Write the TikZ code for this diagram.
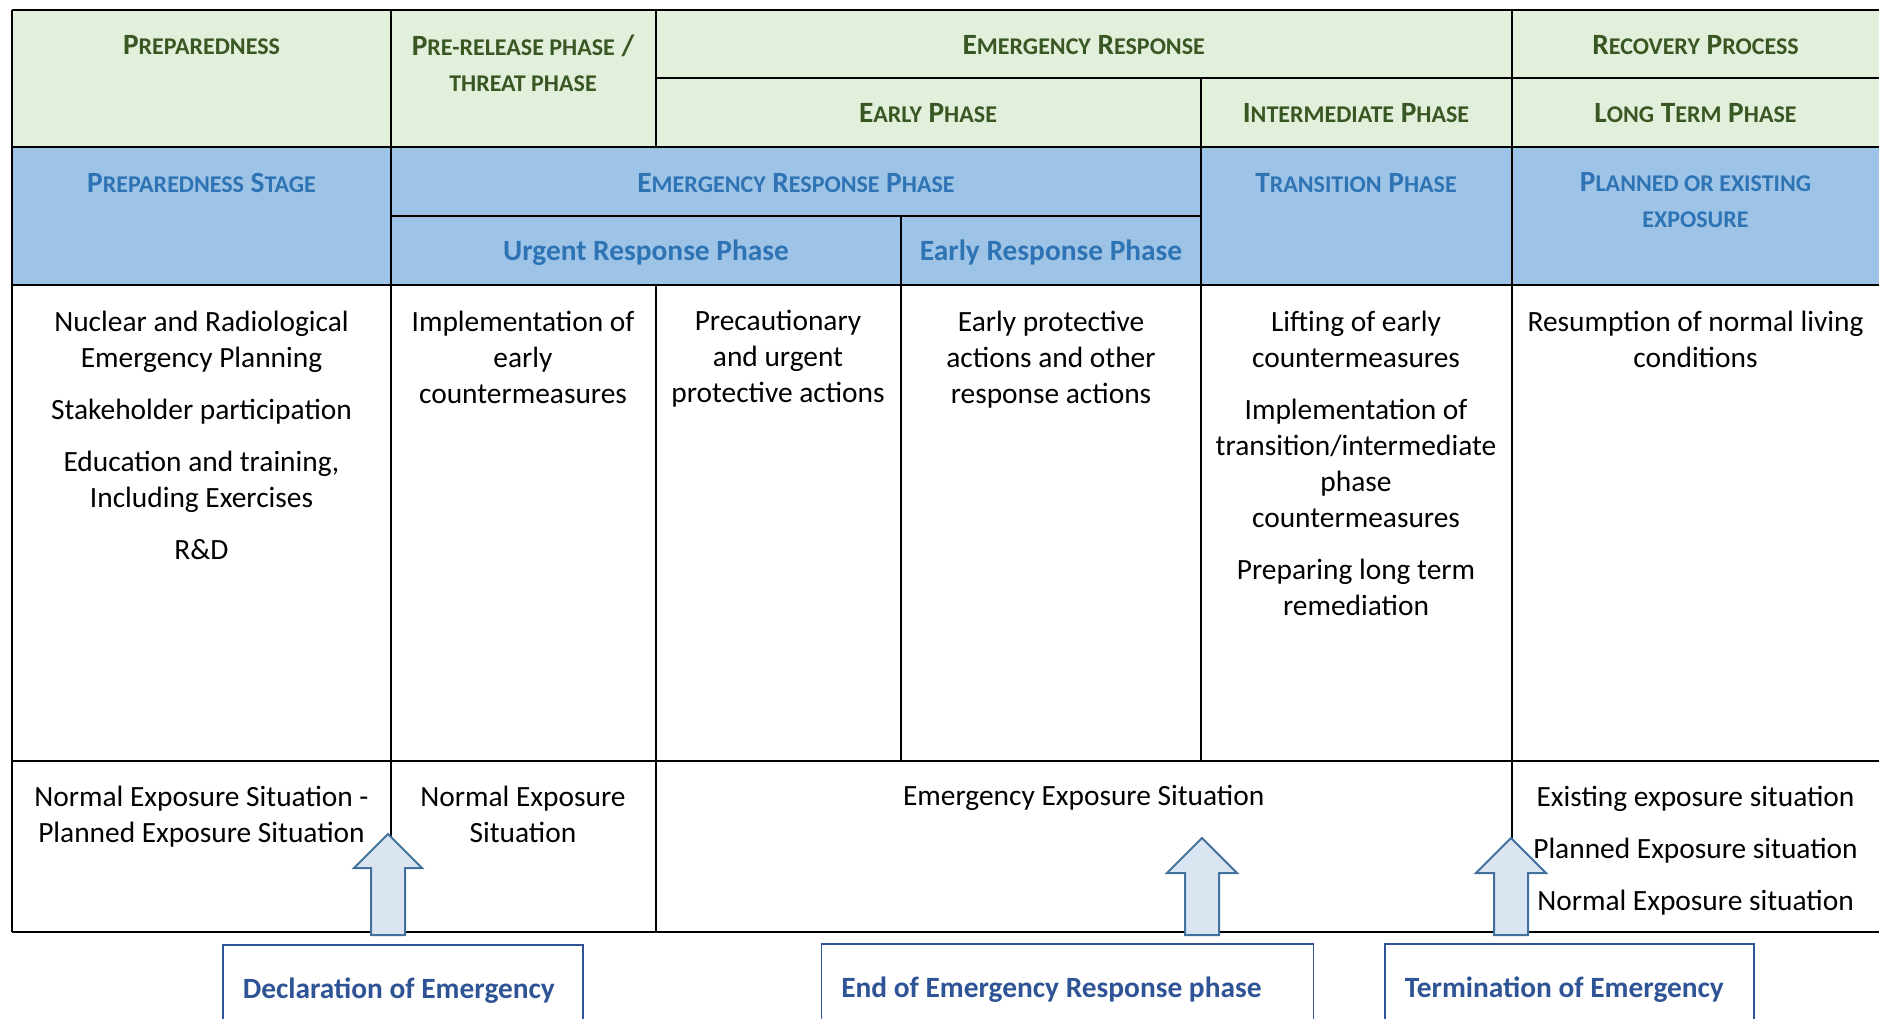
\documentclass[tikz,border=0pt]{standalone}
\usepackage{fontspec}
\setmainfont{Carlito}
\usepackage{tikz}

\definecolor{hdgreen}{HTML}{E2EFDA}
\definecolor{hdgreentext}{HTML}{385723}
\definecolor{hdblue}{HTML}{9DC3E6}
\definecolor{hdbluetext}{HTML}{2E74B5}
\definecolor{lblblue}{HTML}{2F5496}
\definecolor{arrfill}{HTML}{DAE5F1}
\definecolor{arrline}{HTML}{41719C}

% fake small caps
\newcommand{\lc}[1]{{\fontsize{12}{18}\selectfont #1}}

\begin{document}
\begin{tikzpicture}[x=0.5pt, y=-0.5pt,
    txt/.style={anchor=north, inner sep=0pt, align=center, font=\fontsize{14.7}{18}\selectfont, execute at begin node=\strut},
    greenhd/.style={txt, font=\fontsize{14.7}{18}\selectfont\bfseries, text=hdgreentext},
    bluehd/.style={txt, font=\fontsize{14.7}{18}\selectfont\bfseries, text=hdbluetext},
    lbl/.style={draw=lblblue, line width=0.75pt, anchor=north west, inner xsep=10pt, inner ysep=14.4pt, font=\fontsize{14.7}{18}\selectfont\bfseries, text=lblblue, execute at begin node=\strut},
    blockarr/.style={fill=arrfill, draw=arrline, line width=1pt, line join=miter},
    grid/.style={line width=1pt}]
    \useasboundingbox (0,0) rectangle (1879,1018);

    % backgrounds
    \fill[hdgreen] (12,9.6) rectangle (1881,147.4);
    \fill[hdblue] (12,147.4) rectangle (1881,285.2);

    % table lines
    \draw[grid] (12,9.6) -- (1881,9.6);
    \draw[grid] (655.5,78) -- (1881,78);
    \draw[grid] (12,147.4) -- (1881,147.4);
    \draw[grid] (391,215.7) -- (1200.7,215.7);
    \draw[grid] (12,285.2) -- (1881,285.2);
    \draw[grid] (12,761) -- (1881,761);
    \draw[grid] (12,932.3) -- (1881,932.3);
    \draw[grid] (12,9.6) -- (12,932.3);
    \draw[grid] (391,9.6) -- (391,932.3);
    \draw[grid] (655.5,9.6) -- (655.5,147.4);
    \draw[grid] (655.5,285.2) -- (655.5,932.3);
    \draw[grid] (901,215.7) -- (901,761);
    \draw[grid] (1200.7,78) -- (1200.7,761);
    \draw[grid] (1512,9.6) -- (1512,932.3);

    % green header
    \node[greenhd] (prep) at (201.5,28.6) {P\lc{REPAREDNESS}};
    \node[greenhd] (prerel) at (523,34.6) {P\lc{RE-RELEASE PHASE} /\\\lc{THREAT PHASE}};
    \node[greenhd] (emresp) at (1083.7,28.6) {E\lc{MERGENCY} R\lc{ESPONSE}};
    \node[greenhd] (recov) at (1695.5,28.6) {R\lc{ECOVERY} P\lc{ROCESS}};
    \node[greenhd] (early) at (928,97) {E\lc{ARLY} P\lc{HASE}};
    \node[greenhd] (interm) at (1356,97) {I\lc{NTERMEDIATE} P\lc{HASE}};
    \node[greenhd] (longterm) at (1695.5,97) {L\lc{ONG} T\lc{ERM} P\lc{HASE}};

    % blue header
    \node[bluehd] (prepstage) at (201.5,166.4) {P\lc{REPAREDNESS} S\lc{TAGE}};
    \node[bluehd] (emrespph) at (796,166.4) {E\lc{MERGENCY} R\lc{ESPONSE} P\lc{HASE}};
    \node[bluehd] (transph) at (1356,166.4) {T\lc{RANSITION} P\lc{HASE}};
    \node[bluehd] (planned) at (1695.5,172.4) {P\lc{LANNED OR EXISTING}\\\lc{EXPOSURE}};
    \node[bluehd] (urgent) at (646,234.7) {Urgent Response Phase};
    \node[bluehd] (earlyresp) at (1051,234.7) {Early Response Phase};

    % actions
    \node[txt] (actA) at (201.5,310.2) {Nuclear and Radiological\\Emergency Planning\\[8pt]Stakeholder participation\\[8pt]Education and training,\\Including Exercises\\[8pt]R\&D};
    \node[txt] (actB) at (523,310.2) {Implementation of\\early\\countermeasures};
    \node[txt] (actC) at (778,310.2) {Precautionary\\and urgent\\protective actions};
    \node[txt] (actD) at (1051,310.2) {Early protective\\actions and other\\response actions};
    \node[txt] (actE) at (1356,310.2) {Lifting of early\\countermeasures\\[8pt]Implementation of\\transition/intermediate\\phase\\countermeasures\\[8pt]Preparing long term\\remediation};
    \node[txt] (actF) at (1695.5,310.2) {Resumption of normal living\\conditions};

    % exposure situations
    \node[txt] (expA) at (201.5,786) {Normal Exposure Situation -\\Planned Exposure Situation};
    \node[txt] (expB) at (523,786) {Normal Exposure\\Situation};
    \node[txt] (expC) at (1083.7,780) {Emergency Exposure Situation};
    \node[txt] (expF) at (1695.5,786) {Existing exposure situation\\[8pt]Planned Exposure situation\\[8pt]Normal Exposure situation};

    % milestones
    \node[lbl] (declare) at (222,944) {\makebox[160pt][l]{Declaration of Emergency}};
    \node[lbl] (endresp) at (820.5,943) {\makebox[226pt][l]{End of Emergency Response phase}};
    \node[lbl] (terminate) at (1384,943) {\makebox[164.5pt][l]{Termination of Emergency}};

    \draw[blockarr] (371,935) -- (371,868) -- (354,868) -- (388,834) -- (422,868) -- (405,868) -- (405,935) -- cycle;
    \draw[blockarr] (1185,935) -- (1185,873) -- (1167,873) -- (1202,838) -- (1237,873) -- (1219,873) -- (1219,935) -- cycle;
    \draw[blockarr] (1494,935) -- (1494,873) -- (1476,873) -- (1511,838) -- (1546,873) -- (1528,873) -- (1528,935) -- cycle;
\end{tikzpicture}
\end{document}
